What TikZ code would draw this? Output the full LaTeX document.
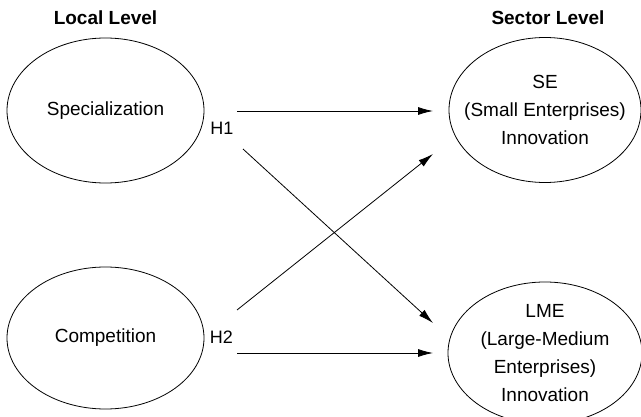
\documentclass[tikz,border=0pt]{standalone}
\usepackage{fontspec}
\setmainfont{Liberation Sans}
\usetikzlibrary{arrows.meta,shapes.geometric}
\begin{document}
\begin{tikzpicture}[x=1pt,y=-1pt,line width=0.8pt,
    level node/.style={font=\fontsize{19}{23}\selectfont\bfseries},
    main node/.style={ellipse,draw,inner sep=-30pt,align=center,font=\fontsize{19}{28}\selectfont},
    hyp node/.style={font=\fontsize{18}{22}\selectfont},
    link/.style={-{Latex[length=15pt,width=8pt]}}]
        \useasboundingbox (0,0) rectangle (641,417);

        \node[level node] at (105.5, 18) (local) {Local Level};
        \node[level node] at (548, 18) (sector) {Sector Level};

        \node[main node, minimum width=197, minimum height=145] at (105.5, 110.5) (spec) {Specialization};
        \node[main node, minimum width=197, minimum height=142] at (105.5, 338) (comp) {Competition};
        \node[main node, minimum width=192, minimum height=145] at (545, 110) (se) {SE\\(Small Enterprises)\\Innovation};
        \node[main node, minimum width=194, minimum height=142] at (545, 353) (lme) {LME\\(Large-Medium\\Enterprises)\\Innovation};

        \node[hyp node] at (222, 128) (h1) {H1};
        \node[hyp node] at (221.5, 337) (h2) {H2};

        \coordinate (h1a) at (237, 111);
        \coordinate (h1b) at (243, 149);
        \coordinate (h2a) at (237, 310);
        \coordinate (h2b) at (237, 353);
        \coordinate (sea) at (433, 111);
        \coordinate (seb) at (433, 154);
        \coordinate (lmea) at (433, 323);
        \coordinate (lmeb) at (433, 353);

        \path
            (h1a) edge[link] (sea)
            (h1b) edge[link] (lmea)
            (h2a) edge[link] (seb)
            (h2b) edge[link] (lmeb)
            ;
    \end{tikzpicture}
\end{document}
